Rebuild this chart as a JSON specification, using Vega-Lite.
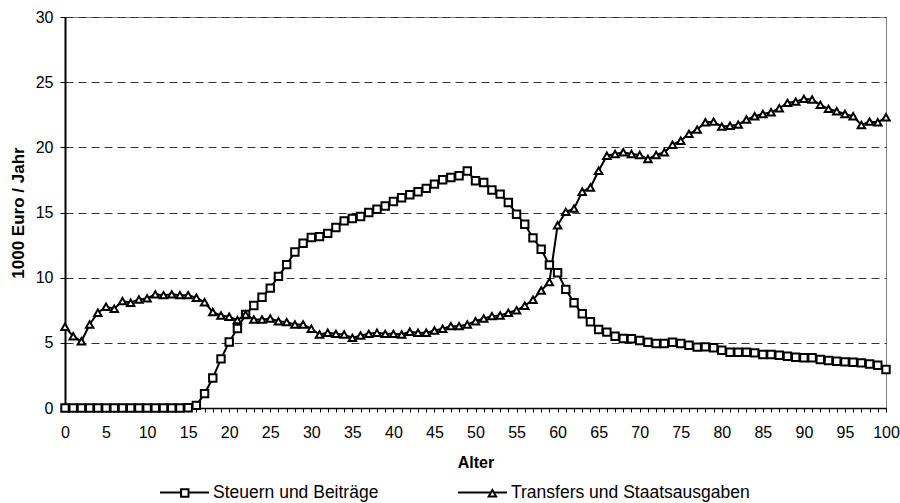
{
  "$schema": "https://vega.github.io/schema/vega-lite/v6.json",
  "width": 821,
  "height": 391,
  "autosize": "none",
  "padding": {"left": 65, "top": 17, "right": 14, "bottom": 95},
  "background": "white",
  "config": {
    "font": "Liberation Sans",
    "view": {"stroke": "#808080", "strokeWidth": 1}
  },
  "data": {"values": [
    {"Alter":0,"Reihe":"Steuern und Beiträge","Wert":0},
    {"Alter":1,"Reihe":"Steuern und Beiträge","Wert":0},
    {"Alter":2,"Reihe":"Steuern und Beiträge","Wert":0},
    {"Alter":3,"Reihe":"Steuern und Beiträge","Wert":0},
    {"Alter":4,"Reihe":"Steuern und Beiträge","Wert":0},
    {"Alter":5,"Reihe":"Steuern und Beiträge","Wert":0},
    {"Alter":6,"Reihe":"Steuern und Beiträge","Wert":0},
    {"Alter":7,"Reihe":"Steuern und Beiträge","Wert":0},
    {"Alter":8,"Reihe":"Steuern und Beiträge","Wert":0},
    {"Alter":9,"Reihe":"Steuern und Beiträge","Wert":0},
    {"Alter":10,"Reihe":"Steuern und Beiträge","Wert":0},
    {"Alter":11,"Reihe":"Steuern und Beiträge","Wert":0},
    {"Alter":12,"Reihe":"Steuern und Beiträge","Wert":0},
    {"Alter":13,"Reihe":"Steuern und Beiträge","Wert":0},
    {"Alter":14,"Reihe":"Steuern und Beiträge","Wert":0},
    {"Alter":15,"Reihe":"Steuern und Beiträge","Wert":0.02},
    {"Alter":16,"Reihe":"Steuern und Beiträge","Wert":0.2},
    {"Alter":17,"Reihe":"Steuern und Beiträge","Wert":1.1},
    {"Alter":18,"Reihe":"Steuern und Beiträge","Wert":2.3},
    {"Alter":19,"Reihe":"Steuern und Beiträge","Wert":3.77},
    {"Alter":20,"Reihe":"Steuern und Beiträge","Wert":5.07},
    {"Alter":21,"Reihe":"Steuern und Beiträge","Wert":6.1},
    {"Alter":22,"Reihe":"Steuern und Beiträge","Wert":7.18},
    {"Alter":23,"Reihe":"Steuern und Beiträge","Wert":7.87},
    {"Alter":24,"Reihe":"Steuern und Beiträge","Wert":8.5},
    {"Alter":25,"Reihe":"Steuern und Beiträge","Wert":9.2},
    {"Alter":26,"Reihe":"Steuern und Beiträge","Wert":10.1},
    {"Alter":27,"Reihe":"Steuern und Beiträge","Wert":11.0},
    {"Alter":28,"Reihe":"Steuern und Beiträge","Wert":11.97},
    {"Alter":29,"Reihe":"Steuern und Beiträge","Wert":12.64},
    {"Alter":30,"Reihe":"Steuern und Beiträge","Wert":13.08},
    {"Alter":31,"Reihe":"Steuern und Beiträge","Wert":13.15},
    {"Alter":32,"Reihe":"Steuern und Beiträge","Wert":13.4},
    {"Alter":33,"Reihe":"Steuern und Beiträge","Wert":13.85},
    {"Alter":34,"Reihe":"Steuern und Beiträge","Wert":14.36},
    {"Alter":35,"Reihe":"Steuern und Beiträge","Wert":14.54},
    {"Alter":36,"Reihe":"Steuern und Beiträge","Wert":14.69},
    {"Alter":37,"Reihe":"Steuern und Beiträge","Wert":15.0},
    {"Alter":38,"Reihe":"Steuern und Beiträge","Wert":15.25},
    {"Alter":39,"Reihe":"Steuern und Beiträge","Wert":15.5},
    {"Alter":40,"Reihe":"Steuern und Beiträge","Wert":15.85},
    {"Alter":41,"Reihe":"Steuern und Beiträge","Wert":16.13},
    {"Alter":42,"Reihe":"Steuern und Beiträge","Wert":16.36},
    {"Alter":43,"Reihe":"Steuern und Beiträge","Wert":16.59},
    {"Alter":44,"Reihe":"Steuern und Beiträge","Wert":16.85},
    {"Alter":45,"Reihe":"Steuern und Beiträge","Wert":17.18},
    {"Alter":46,"Reihe":"Steuern und Beiträge","Wert":17.51},
    {"Alter":47,"Reihe":"Steuern und Beiträge","Wert":17.69},
    {"Alter":48,"Reihe":"Steuern und Beiträge","Wert":17.82},
    {"Alter":49,"Reihe":"Steuern und Beiträge","Wert":18.18},
    {"Alter":50,"Reihe":"Steuern und Beiträge","Wert":17.43},
    {"Alter":51,"Reihe":"Steuern und Beiträge","Wert":17.3},
    {"Alter":52,"Reihe":"Steuern und Beiträge","Wert":16.72},
    {"Alter":53,"Reihe":"Steuern und Beiträge","Wert":16.41},
    {"Alter":54,"Reihe":"Steuern und Beiträge","Wert":15.77},
    {"Alter":55,"Reihe":"Steuern und Beiträge","Wert":14.87},
    {"Alter":56,"Reihe":"Steuern und Beiträge","Wert":14.1},
    {"Alter":57,"Reihe":"Steuern und Beiträge","Wert":13.05},
    {"Alter":58,"Reihe":"Steuern und Beiträge","Wert":12.18},
    {"Alter":59,"Reihe":"Steuern und Beiträge","Wert":10.97},
    {"Alter":60,"Reihe":"Steuern und Beiträge","Wert":10.38},
    {"Alter":61,"Reihe":"Steuern und Beiträge","Wert":9.1},
    {"Alter":62,"Reihe":"Steuern und Beiträge","Wert":8.08},
    {"Alter":63,"Reihe":"Steuern und Beiträge","Wert":7.23},
    {"Alter":64,"Reihe":"Steuern und Beiträge","Wert":6.62},
    {"Alter":65,"Reihe":"Steuern und Beiträge","Wert":6.02},
    {"Alter":66,"Reihe":"Steuern und Beiträge","Wert":5.82},
    {"Alter":67,"Reihe":"Steuern und Beiträge","Wert":5.51},
    {"Alter":68,"Reihe":"Steuern und Beiträge","Wert":5.33},
    {"Alter":69,"Reihe":"Steuern und Beiträge","Wert":5.31},
    {"Alter":70,"Reihe":"Steuern und Beiträge","Wert":5.18},
    {"Alter":71,"Reihe":"Steuern und Beiträge","Wert":5.05},
    {"Alter":72,"Reihe":"Steuern und Beiträge","Wert":4.95},
    {"Alter":73,"Reihe":"Steuern und Beiträge","Wert":4.95},
    {"Alter":74,"Reihe":"Steuern und Beiträge","Wert":5.05},
    {"Alter":75,"Reihe":"Steuern und Beiträge","Wert":4.95},
    {"Alter":76,"Reihe":"Steuern und Beiträge","Wert":4.82},
    {"Alter":77,"Reihe":"Steuern und Beiträge","Wert":4.67},
    {"Alter":78,"Reihe":"Steuern und Beiträge","Wert":4.69},
    {"Alter":79,"Reihe":"Steuern und Beiträge","Wert":4.62},
    {"Alter":80,"Reihe":"Steuern und Beiträge","Wert":4.43},
    {"Alter":81,"Reihe":"Steuern und Beiträge","Wert":4.28},
    {"Alter":82,"Reihe":"Steuern und Beiträge","Wert":4.28},
    {"Alter":83,"Reihe":"Steuern und Beiträge","Wert":4.28},
    {"Alter":84,"Reihe":"Steuern und Beiträge","Wert":4.23},
    {"Alter":85,"Reihe":"Steuern und Beiträge","Wert":4.1},
    {"Alter":86,"Reihe":"Steuern und Beiträge","Wert":4.1},
    {"Alter":87,"Reihe":"Steuern und Beiträge","Wert":4.05},
    {"Alter":88,"Reihe":"Steuern und Beiträge","Wert":3.97},
    {"Alter":89,"Reihe":"Steuern und Beiträge","Wert":3.9},
    {"Alter":90,"Reihe":"Steuern und Beiträge","Wert":3.85},
    {"Alter":91,"Reihe":"Steuern und Beiträge","Wert":3.85},
    {"Alter":92,"Reihe":"Steuern und Beiträge","Wert":3.72},
    {"Alter":93,"Reihe":"Steuern und Beiträge","Wert":3.64},
    {"Alter":94,"Reihe":"Steuern und Beiträge","Wert":3.59},
    {"Alter":95,"Reihe":"Steuern und Beiträge","Wert":3.54},
    {"Alter":96,"Reihe":"Steuern und Beiträge","Wert":3.51},
    {"Alter":97,"Reihe":"Steuern und Beiträge","Wert":3.46},
    {"Alter":98,"Reihe":"Steuern und Beiträge","Wert":3.38},
    {"Alter":99,"Reihe":"Steuern und Beiträge","Wert":3.28},
    {"Alter":100,"Reihe":"Steuern und Beiträge","Wert":2.95},
    {"Alter":0,"Reihe":"Transfers und Staatsausgaben","Wert":6.23},
    {"Alter":1,"Reihe":"Transfers und Staatsausgaben","Wert":5.51},
    {"Alter":2,"Reihe":"Transfers und Staatsausgaben","Wert":5.12},
    {"Alter":3,"Reihe":"Transfers und Staatsausgaben","Wert":6.41},
    {"Alter":4,"Reihe":"Transfers und Staatsausgaben","Wert":7.31},
    {"Alter":5,"Reihe":"Transfers und Staatsausgaben","Wert":7.77},
    {"Alter":6,"Reihe":"Transfers und Staatsausgaben","Wert":7.62},
    {"Alter":7,"Reihe":"Transfers und Staatsausgaben","Wert":8.2},
    {"Alter":8,"Reihe":"Transfers und Staatsausgaben","Wert":8.08},
    {"Alter":9,"Reihe":"Transfers und Staatsausgaben","Wert":8.33},
    {"Alter":10,"Reihe":"Transfers und Staatsausgaben","Wert":8.41},
    {"Alter":11,"Reihe":"Transfers und Staatsausgaben","Wert":8.72},
    {"Alter":12,"Reihe":"Transfers und Staatsausgaben","Wert":8.66},
    {"Alter":13,"Reihe":"Transfers und Staatsausgaben","Wert":8.72},
    {"Alter":14,"Reihe":"Transfers und Staatsausgaben","Wert":8.66},
    {"Alter":15,"Reihe":"Transfers und Staatsausgaben","Wert":8.66},
    {"Alter":16,"Reihe":"Transfers und Staatsausgaben","Wert":8.46},
    {"Alter":17,"Reihe":"Transfers und Staatsausgaben","Wert":8.12},
    {"Alter":18,"Reihe":"Transfers und Staatsausgaben","Wert":7.36},
    {"Alter":19,"Reihe":"Transfers und Staatsausgaben","Wert":7.1},
    {"Alter":20,"Reihe":"Transfers und Staatsausgaben","Wert":7.0},
    {"Alter":21,"Reihe":"Transfers und Staatsausgaben","Wert":6.74},
    {"Alter":22,"Reihe":"Transfers und Staatsausgaben","Wert":7.18},
    {"Alter":23,"Reihe":"Transfers und Staatsausgaben","Wert":6.79},
    {"Alter":24,"Reihe":"Transfers und Staatsausgaben","Wert":6.79},
    {"Alter":25,"Reihe":"Transfers und Staatsausgaben","Wert":6.87},
    {"Alter":26,"Reihe":"Transfers und Staatsausgaben","Wert":6.66},
    {"Alter":27,"Reihe":"Transfers und Staatsausgaben","Wert":6.59},
    {"Alter":28,"Reihe":"Transfers und Staatsausgaben","Wert":6.41},
    {"Alter":29,"Reihe":"Transfers und Staatsausgaben","Wert":6.41},
    {"Alter":30,"Reihe":"Transfers und Staatsausgaben","Wert":6.08},
    {"Alter":31,"Reihe":"Transfers und Staatsausgaben","Wert":5.64},
    {"Alter":32,"Reihe":"Transfers und Staatsausgaben","Wert":5.77},
    {"Alter":33,"Reihe":"Transfers und Staatsausgaben","Wert":5.69},
    {"Alter":34,"Reihe":"Transfers und Staatsausgaben","Wert":5.64},
    {"Alter":35,"Reihe":"Transfers und Staatsausgaben","Wert":5.38},
    {"Alter":36,"Reihe":"Transfers und Staatsausgaben","Wert":5.56},
    {"Alter":37,"Reihe":"Transfers und Staatsausgaben","Wert":5.69},
    {"Alter":38,"Reihe":"Transfers und Staatsausgaben","Wert":5.77},
    {"Alter":39,"Reihe":"Transfers und Staatsausgaben","Wert":5.69},
    {"Alter":40,"Reihe":"Transfers und Staatsausgaben","Wert":5.69},
    {"Alter":41,"Reihe":"Transfers und Staatsausgaben","Wert":5.64},
    {"Alter":42,"Reihe":"Transfers und Staatsausgaben","Wert":5.85},
    {"Alter":43,"Reihe":"Transfers und Staatsausgaben","Wert":5.77},
    {"Alter":44,"Reihe":"Transfers und Staatsausgaben","Wert":5.77},
    {"Alter":45,"Reihe":"Transfers und Staatsausgaben","Wert":5.95},
    {"Alter":46,"Reihe":"Transfers und Staatsausgaben","Wert":6.08},
    {"Alter":47,"Reihe":"Transfers und Staatsausgaben","Wert":6.28},
    {"Alter":48,"Reihe":"Transfers und Staatsausgaben","Wert":6.28},
    {"Alter":49,"Reihe":"Transfers und Staatsausgaben","Wert":6.41},
    {"Alter":50,"Reihe":"Transfers und Staatsausgaben","Wert":6.66},
    {"Alter":51,"Reihe":"Transfers und Staatsausgaben","Wert":6.87},
    {"Alter":52,"Reihe":"Transfers und Staatsausgaben","Wert":7.05},
    {"Alter":53,"Reihe":"Transfers und Staatsausgaben","Wert":7.1},
    {"Alter":54,"Reihe":"Transfers und Staatsausgaben","Wert":7.31},
    {"Alter":55,"Reihe":"Transfers und Staatsausgaben","Wert":7.5},
    {"Alter":56,"Reihe":"Transfers und Staatsausgaben","Wert":7.85},
    {"Alter":57,"Reihe":"Transfers und Staatsausgaben","Wert":8.3},
    {"Alter":58,"Reihe":"Transfers und Staatsausgaben","Wert":9.02},
    {"Alter":59,"Reihe":"Transfers und Staatsausgaben","Wert":9.67},
    {"Alter":60,"Reihe":"Transfers und Staatsausgaben","Wert":14.02},
    {"Alter":61,"Reihe":"Transfers und Staatsausgaben","Wert":15.05},
    {"Alter":62,"Reihe":"Transfers und Staatsausgaben","Wert":15.3},
    {"Alter":63,"Reihe":"Transfers und Staatsausgaben","Wert":16.59},
    {"Alter":64,"Reihe":"Transfers und Staatsausgaben","Wert":16.92},
    {"Alter":65,"Reihe":"Transfers und Staatsausgaben","Wert":18.2},
    {"Alter":66,"Reihe":"Transfers und Staatsausgaben","Wert":19.36},
    {"Alter":67,"Reihe":"Transfers und Staatsausgaben","Wert":19.49},
    {"Alter":68,"Reihe":"Transfers und Staatsausgaben","Wert":19.62},
    {"Alter":69,"Reihe":"Transfers und Staatsausgaben","Wert":19.49},
    {"Alter":70,"Reihe":"Transfers und Staatsausgaben","Wert":19.41},
    {"Alter":71,"Reihe":"Transfers und Staatsausgaben","Wert":19.1},
    {"Alter":72,"Reihe":"Transfers und Staatsausgaben","Wert":19.41},
    {"Alter":73,"Reihe":"Transfers und Staatsausgaben","Wert":19.62},
    {"Alter":74,"Reihe":"Transfers und Staatsausgaben","Wert":20.2},
    {"Alter":75,"Reihe":"Transfers und Staatsausgaben","Wert":20.51},
    {"Alter":76,"Reihe":"Transfers und Staatsausgaben","Wert":21.03},
    {"Alter":77,"Reihe":"Transfers und Staatsausgaben","Wert":21.36},
    {"Alter":78,"Reihe":"Transfers und Staatsausgaben","Wert":21.92},
    {"Alter":79,"Reihe":"Transfers und Staatsausgaben","Wert":21.97},
    {"Alter":80,"Reihe":"Transfers und Staatsausgaben","Wert":21.59},
    {"Alter":81,"Reihe":"Transfers und Staatsausgaben","Wert":21.66},
    {"Alter":82,"Reihe":"Transfers und Staatsausgaben","Wert":21.74},
    {"Alter":83,"Reihe":"Transfers und Staatsausgaben","Wert":22.13},
    {"Alter":84,"Reihe":"Transfers und Staatsausgaben","Wert":22.38},
    {"Alter":85,"Reihe":"Transfers und Staatsausgaben","Wert":22.56},
    {"Alter":86,"Reihe":"Transfers und Staatsausgaben","Wert":22.69},
    {"Alter":87,"Reihe":"Transfers und Staatsausgaben","Wert":23.0},
    {"Alter":88,"Reihe":"Transfers und Staatsausgaben","Wert":23.41},
    {"Alter":89,"Reihe":"Transfers und Staatsausgaben","Wert":23.51},
    {"Alter":90,"Reihe":"Transfers und Staatsausgaben","Wert":23.72},
    {"Alter":91,"Reihe":"Transfers und Staatsausgaben","Wert":23.67},
    {"Alter":92,"Reihe":"Transfers und Staatsausgaben","Wert":23.26},
    {"Alter":93,"Reihe":"Transfers und Staatsausgaben","Wert":22.95},
    {"Alter":94,"Reihe":"Transfers und Staatsausgaben","Wert":22.77},
    {"Alter":95,"Reihe":"Transfers und Staatsausgaben","Wert":22.56},
    {"Alter":96,"Reihe":"Transfers und Staatsausgaben","Wert":22.38},
    {"Alter":97,"Reihe":"Transfers und Staatsausgaben","Wert":21.72},
    {"Alter":98,"Reihe":"Transfers und Staatsausgaben","Wert":21.97},
    {"Alter":99,"Reihe":"Transfers und Staatsausgaben","Wert":21.92},
    {"Alter":100,"Reihe":"Transfers und Staatsausgaben","Wert":22.31}
  ]},
  "encoding": {
    "x": {
      "field": "Alter", "type": "quantitative",
      "scale": {"domain": [0, 100], "nice": false, "zero": false},
      "axis": {
        "title": "Alter",
        "values": [0,1,2,3,4,5,6,7,8,9,10,11,12,13,14,15,16,17,18,19,20,21,22,23,24,25,26,27,28,29,30,31,32,33,34,35,36,37,38,39,40,41,42,43,44,45,46,47,48,49,50,51,52,53,54,55,56,57,58,59,60,61,62,63,64,65,66,67,68,69,70,71,72,73,74,75,76,77,78,79,80,81,82,83,84,85,86,87,88,89,90,91,92,93,94,95,96,97,98,99,100],
        "labelExpr": "datum.value % 5 === 0 ? datum.label : ''",
        "labelOverlap": false,
        "labelFlush": false,
        "labelFontSize": 16,
        "labelColor": "black",
        "labelPadding": 12,
        "tickSize": 4,
        "tickColor": "black",
        "tickWidth": 1,
        "domainColor": "black",
        "domainWidth": 1.5,
        "grid": false,
        "titleFontSize": 16,
        "titleFontWeight": "bold",
        "titleColor": "black",
        "titlePadding": 14
      }
    },
    "y": {
      "field": "Wert", "type": "quantitative",
      "scale": {"domain": [0, 30], "nice": false},
      "axis": {
        "title": "1000 Euro / Jahr",
        "values": [0, 5, 10, 15, 20, 25, 30],
        "labelFontSize": 16,
        "labelColor": "black",
        "labelPadding": 7,
        "tickSize": 5,
        "tickColor": "black",
        "domainColor": "black",
        "domainWidth": 2,
        "grid": true,
        "gridColor": "#333333",
        "gridDash": [8, 5],
        "gridWidth": 1,
        "titleFontSize": 17,
        "titleFontWeight": "bold",
        "titleColor": "black",
        "titlePadding": 8
      }
    }
  },
  "layer": [
    {
      "mark": {"type": "line", "strokeWidth": 2},
      "encoding": {
        "color": {
          "field": "Reihe", "type": "nominal",
          "scale": {"domain": ["Steuern und Beiträge", "Transfers und Staatsausgaben"], "range": ["black", "black"]},
          "legend": {
            "title": null,
            "orient": "none",
            "legendX": 94,
            "legendY": 450,
            "direction": "horizontal",
            "symbolType": "stroke",
            "symbolSize": 2401,
            "symbolStrokeWidth": 2,
            "symbolStrokeColor": "black",
            "symbolOpacity": 1,
            "labelFontSize": 17.5,
            "labelColor": "black",
            "labelOffset": 3,
            "columnPadding": 75,
            "labelLimit": 400
          }
        }
      }
    },
    {
      "mark": {"type": "point", "filled": false, "fill": "white", "strokeWidth": 2, "opacity": 1, "size": 55},
      "encoding": {
        "stroke": {
          "field": "Reihe", "type": "nominal",
          "scale": {"domain": ["Steuern und Beiträge", "Transfers und Staatsausgaben"], "range": ["black", "black"]},
          "legend": {
            "title": null,
            "orient": "none",
            "legendX": 114.79,
            "legendY": 470.79,
            "direction": "horizontal",
            "symbolSize": 55,
            "symbolStrokeWidth": 2,
            "symbolFillColor": "white",
            "symbolOpacity": 1,
            "labelExpr": "''",
            "labelFontSize": 1,
            "labelOffset": 0,
            "columnPadding": 291.6
          }
        },
        "shape": {
          "field": "Reihe", "type": "nominal",
          "scale": {"domain": ["Steuern und Beiträge", "Transfers und Staatsausgaben"], "range": ["square", "triangle-up"]},
          "legend": {
            "title": null,
            "orient": "none",
            "legendX": 114.79,
            "legendY": 470.79,
            "direction": "horizontal",
            "symbolSize": 55,
            "symbolStrokeWidth": 2,
            "symbolFillColor": "white",
            "symbolOpacity": 1,
            "labelExpr": "''",
            "labelFontSize": 1,
            "labelOffset": 0,
            "columnPadding": 291.6
          }
        }
      }
    }
  ],
  "resolve": {"scale": {"color": "independent", "shape": "independent", "stroke": "independent"}}
}
